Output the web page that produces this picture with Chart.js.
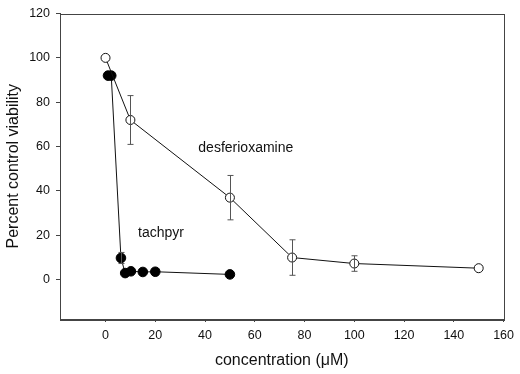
<!DOCTYPE html>
<html>
<head>
<meta charset="utf-8">
<script src="https://cdn.jsdelivr.net/npm/chart.js@4.4.0/dist/chart.umd.min.js"></script>
<style>
  html, body { margin: 0; padding: 0; background: #fff; }
  #wrap { width: 520px; height: 374px; }
</style>
</head>
<body>
<div id="wrap"><canvas id="chart"></canvas></div>
<script>
// desferrioxamine (open circles)
const desfX = [0, 10, 50, 75, 100, 150];
const desfY = [100, 72, 37, 10, 7.3, 5.2];
const desfErr = [0, 11, 10, 8, 3.5, 0];

// tachpyr (filled circles)
const tachX = [1, 2.3, 6.2, 7.9, 10.2, 15, 20, 50];
const tachY = [92, 92, 9.8, 3, 3.8, 3.5, 3.6, 2.4];
const tachErr = [0, 0, 2.5, 0, 0, 0, 0, 0];

const xTicks = [0, 20, 40, 60, 80, 100, 120, 140, 160];
const yTicks = [0, 20, 40, 60, 80, 100, 120];

const seriesLabels = ['desferioxamine', 'tachpyr'];
const labelX = [37.3, 13.1];
const labelY = [59.5, 21];

const FONT = 'Liberation Sans, Arial, sans-serif';

function toPoints(xs, ys) {
    return xs.map((x, i) => ({ x: x, y: ys[i] }));
}

// Error bars, frame and in-plot labels
const extras = {
    id: 'extras',
    afterDatasetsDraw(chart) {
        const { ctx, scales } = chart;
        const xs = scales.x, ys = scales.y;
        ctx.save();
        ctx.strokeStyle = '#555';
        ctx.lineWidth = 1;
        const bars = [[desfX, desfY, desfErr], [tachX, tachY, tachErr]];
        bars.forEach(([bx, by, be]) => {
            bx.forEach((x, i) => {
                if (!be[i]) return;
                const px = Math.round(xs.getPixelForValue(x)) + 0.5;
                const top = ys.getPixelForValue(by[i] + be[i]);
                const bot = ys.getPixelForValue(by[i] - be[i]);
                ctx.beginPath();
                ctx.moveTo(px, top); ctx.lineTo(px, bot);
                ctx.moveTo(px - 3, top); ctx.lineTo(px + 3, top);
                ctx.moveTo(px - 3, bot); ctx.lineTo(px + 3, bot);
                ctx.stroke();
            });
        });
        ctx.restore();
    },
    afterDraw(chart) {
        const { ctx, chartArea, scales } = chart;
        ctx.save();
        ctx.strokeStyle = '#444';
        ctx.lineWidth = 1;
        ctx.strokeRect(Math.round(chartArea.left) + 0.5, Math.round(chartArea.top) + 0.5,
            Math.round(chartArea.right - chartArea.left), Math.round(chartArea.bottom - chartArea.top));
        ctx.fillStyle = '#111';
        ctx.font = '14px ' + FONT;
        ctx.textBaseline = 'middle';
        ctx.textAlign = 'left';
        seriesLabels.forEach((t, i) => {
            ctx.fillText(t, scales.x.getPixelForValue(labelX[i]), scales.y.getPixelForValue(labelY[i]));
        });
        ctx.restore();
    }
};

const ctx = document.getElementById('chart').getContext('2d');
new Chart(ctx, {
    type: 'scatter',
    data: {
        datasets: [{
            label: 'desferioxamine',
            data: toPoints(desfX, desfY),
            showLine: true,
            borderColor: '#111',
            borderWidth: 1,
            pointRadius: 4.5,
            pointBackgroundColor: '#fff',
            pointBorderColor: '#111',
            pointBorderWidth: 1
        }, {
            label: 'tachpyr',
            data: toPoints(tachX, tachY),
            showLine: true,
            borderColor: '#111',
            borderWidth: 1,
            pointRadius: 4.8,
            pointBackgroundColor: '#000',
            pointBorderColor: '#000',
            pointBorderWidth: 1
        }]
    },
    options: {
        responsive: true,
        maintainAspectRatio: false,
        animation: false,
        layout: { padding: { top: 7, right: 11, left: 0, bottom: 0 } },
        plugins: {
            legend: { display: false },
            tooltip: { enabled: false }
        },
        scales: {
            x: {
                type: 'linear',
                min: -18.3,
                max: 160,
                afterBuildTicks: s => { s.ticks = xTicks.map(v => ({ value: v })); },
                afterFit: s => { s.height = 55; },
                grid: { drawOnChartArea: false, tickLength: 3, color: '#444' },
                border: { color: '#444' },
                ticks: { color: '#111', font: { size: 12.5, family: FONT }, padding: 6, maxRotation: 0 },
                title: { display: true, text: 'concentration (μM)', color: '#111', font: { size: 16, family: FONT }, padding: { top: 6 } }
            },
            y: {
                type: 'linear',
                min: -17.7,
                max: 120,
                afterBuildTicks: s => { s.ticks = yTicks.map(v => ({ value: v })); },
                afterFit: s => { s.width = 60; },
                grid: { drawOnChartArea: false, tickLength: 4, color: '#444' },
                border: { color: '#444' },
                ticks: { color: '#111', font: { size: 12.5, family: FONT }, padding: 6 },
                title: { display: true, text: 'Percent control viability', color: '#111', font: { size: 16, family: FONT }, padding: { bottom: 4 } }
            }
        }
    },
    plugins: [extras]
});
</script>
</body>
</html>
